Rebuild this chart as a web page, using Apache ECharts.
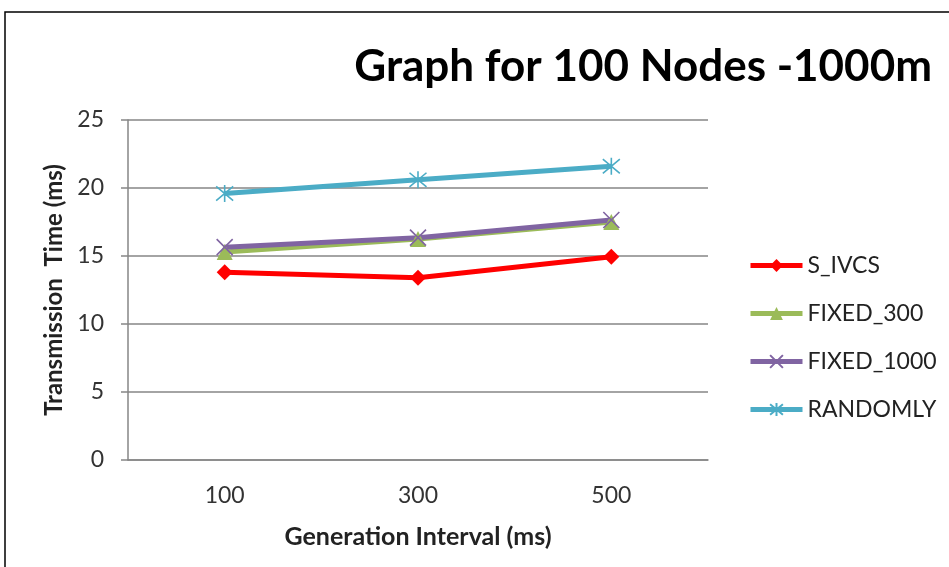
<!DOCTYPE html>
<html>
<head>
<meta charset="utf-8">
<script src="https://cdn.jsdelivr.net/npm/echarts@6/dist/echarts.min.js"></script>
<style>html,body{margin:0;padding:0;background:#fff;}#chart{width:949px;height:567px;}</style>
</head>
<body>
<div id="chart"></div>
<script>
const categories = ['100', '300', '500'];
const sIvcs = [13.8, 13.4, 14.95];
const fixed300 = [15.3, 16.25, 17.5];
const fixed1000 = [15.65, 16.35, 17.65];
const randomly = [19.6, 20.6, 21.6];
const yTicks = { min: 0, max: 25, interval: 5 };

const X_PATH = 'path://M0,0L10,10M10,0L0,10';
const STAR_PATH = 'path://M0,0L10,10M10,0L0,10M5,-1L5,11';

const chart = echarts.init(document.getElementById('chart'));
const font = 'Lato, "Open Sans", sans-serif';
function mk(name, data, color, symbol, size, stroke) {
  return {
    name, type: 'line', data, symbol, symbolSize: size,
    lineStyle: { color, width: 5 },
    itemStyle: stroke ? { color: 'rgba(0,0,0,0)', borderColor: color, borderWidth: 1.6 } : { color },
    emphasis: { disabled: true },
    z: 3
  };
}
chart.setOption({
  animation: false,
  backgroundColor: '#fff',
  graphic: [{
    type: 'rect', shape: { x: 5, y: 12, width: 1000, height: 1000 },
    style: { fill: 'none', stroke: '#000', lineWidth: 1.5 }, z: 0
  }],
  title: {
    text: 'Graph for 100 Nodes -1000m',
    right: 12, top: 40,
    textStyle: { fontFamily: font, fontWeight: 'bold', fontSize: 44, color: '#000' }
  },
  grid: { left: 128, right: 241, top: 120, bottom: 107 },
  legend: {
    orient: 'vertical', left: 743, top: 249,
    itemWidth: 52, itemHeight: 16, itemGap: 25,
    lineStyle: { width: 5 },
    textStyle: { fontFamily: font, fontSize: 23, color: '#222' },
    data: ['S_IVCS', 'FIXED_300', 'FIXED_1000', 'RANDOMLY']
  },
  xAxis: {
    type: 'category', data: categories, boundaryGap: true,
    name: 'Generation Interval (ms)', nameLocation: 'middle', nameGap: 64,
    nameTextStyle: { fontFamily: font, fontWeight: 'bold', fontSize: 25, color: '#222' },
    axisLine: { lineStyle: { color: '#868686', width: 1.5 } },
    axisTick: { show: false },
    axisLabel: { fontFamily: font, fontSize: 23, color: '#333', margin: 24 }
  },
  yAxis: {
    type: 'value', min: yTicks.min, max: yTicks.max, interval: yTicks.interval,
    name: 'Transmission  Time (ms)', nameLocation: 'middle', nameGap: 61,
    nameTextStyle: { fontFamily: font, fontWeight: 'bold', fontSize: 24, color: '#222' },
    axisLine: { show: true, lineStyle: { color: '#868686', width: 1.5 } },
    axisTick: { show: true, length: 7, lineStyle: { color: '#868686', width: 1.5 } },
    axisLabel: { fontFamily: font, fontSize: 23, color: '#333', margin: 24 },
    splitLine: { lineStyle: { color: '#868686', width: 1.5 } }
  },
  series: [
    mk('S_IVCS', sIvcs, '#ff0000', 'diamond', 16, false),
    mk('FIXED_300', fixed300, '#9bbb59', 'triangle', 16, false),
    mk('FIXED_1000', fixed1000, '#8064a2', X_PATH, 16, true),
    mk('RANDOMLY', randomly, '#4bacc6', STAR_PATH, 17, true)
  ]
});
</script>
</body>
</html>
